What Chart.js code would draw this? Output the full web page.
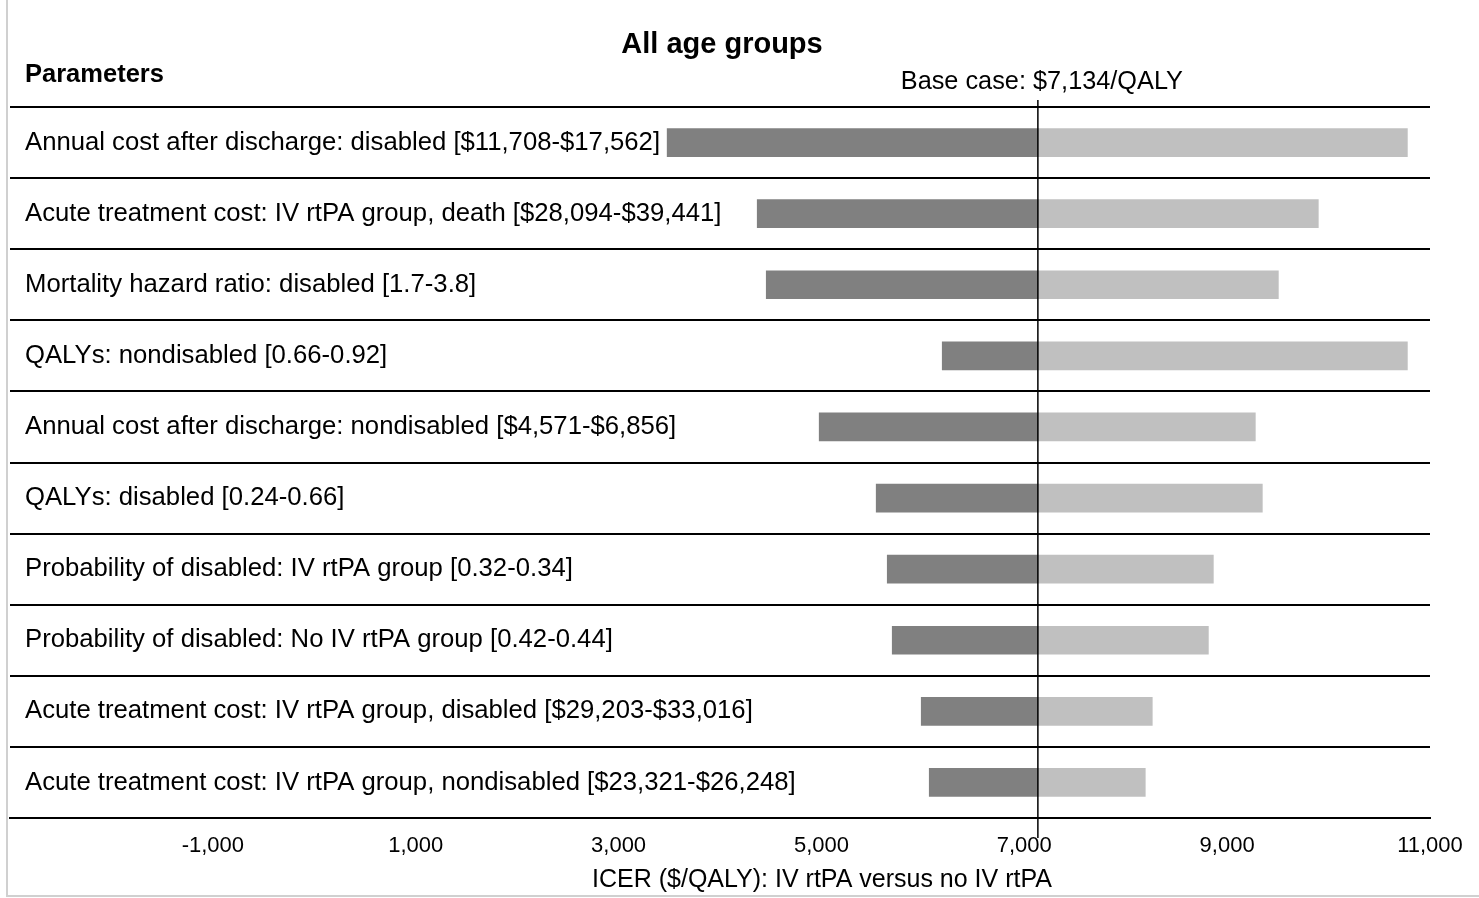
<!DOCTYPE html>
<html>
<head>
<meta charset="utf-8">
<title>All age groups</title>
<script src="https://cdn.jsdelivr.net/npm/chart.js@4/dist/chart.umd.min.js"></script>
<style>
  html, body { margin: 0; padding: 0; background: #ffffff; }
  #wrap { position: relative; width: 1479px; height: 898px; }
</style>
</head>
<body>
<div id="wrap"><canvas id="chart" width="1479" height="898"></canvas></div>
<script>
// Parameters varied in the one-way sensitivity analysis (top to bottom)
const categories = [
  'Annual cost after discharge: disabled [$11,708-$17,562]',
  'Acute treatment cost: IV rtPA group, death [$28,094-$39,441]',
  'Mortality hazard ratio: disabled [1.7-3.8]',
  'QALYs: nondisabled [0.66-0.92]',
  'Annual cost after discharge: nondisabled [$4,571-$6,856]',
  'QALYs: disabled [0.24-0.66]',
  'Probability of disabled: IV rtPA group [0.32-0.34]',
  'Probability of disabled: No IV rtPA group [0.42-0.44]',
  'Acute treatment cost: IV rtPA group, disabled [$29,203-$33,016]',
  'Acute treatment cost: IV rtPA group, nondisabled [$23,321-$26,248]'
];

// ICER at each end of the parameter range ($/QALY)
const lowValues  = [3479, 4367, 4456, 6191, 4978, 5540, 5649, 5698, 5984, 6063];
const highValues = [10777, 9899, 9505, 10777, 9278, 9347, 8864, 8815, 8262, 8193];

// Base-case ICER
const baseCase = 7134;

// Axis range and labelled ticks
const axisMin = -3000;
const axisMax = 11000;
const tickValues = [-1000, 1000, 3000, 5000, 7000, 9000, 11000];

const FONT = '"Liberation Sans", Arial, Helvetica, sans-serif';

// Base-case line, headings and outer frame
const decorations = {
  id: 'decorations',
  afterDatasetsDraw(chart) {
    const { ctx } = chart;
    const x = chart.scales.x.getPixelForValue(baseCase);
    ctx.save();
    ctx.strokeStyle = '#000000';
    ctx.lineWidth = 1.5;
    ctx.beginPath();
    ctx.moveTo(x, 100);
    ctx.lineTo(x, 838);
    ctx.stroke();
    ctx.restore();
  },
  afterDraw(chart) {
    const { ctx } = chart;
    const x = chart.scales.x.getPixelForValue(baseCase);
    ctx.save();
    ctx.fillStyle = '#000000';
    ctx.textBaseline = 'middle';

    ctx.font = 'bold 29px ' + FONT;
    ctx.textAlign = 'center';
    ctx.fillText('All age groups', 722, 45);

    ctx.font = 'bold 25.5px ' + FONT;
    ctx.textAlign = 'left';
    ctx.fillText('Parameters', 25, 75);

    ctx.font = '25.3px ' + FONT;
    ctx.textAlign = 'center';
    ctx.fillText('Base case: $7,134/QALY', x + 4, 82);

    ctx.font = '25px ' + FONT;
    ctx.fillText('ICER ($/QALY): IV rtPA versus no IV rtPA', 822, 880);

    // light frame
    ctx.strokeStyle = '#d0d0d0';
    ctx.lineWidth = 2;
    ctx.beginPath();
    ctx.moveTo(7, 0);
    ctx.lineTo(7, 896);
    ctx.lineTo(1479, 896);
    ctx.stroke();
    ctx.restore();
  }
};

new Chart(document.getElementById('chart'), {
  type: 'bar',
  data: {
    labels: categories,
    datasets: [
      {
        label: 'Low',
        data: lowValues.map(v => [v, baseCase]),
        backgroundColor: '#808080',
        borderWidth: 0,
        grouped: false,
        barThickness: 28
      },
      {
        label: 'High',
        data: highValues.map(v => [baseCase, v]),
        backgroundColor: '#c0c0c0',
        borderWidth: 0,
        grouped: false,
        barThickness: 28
      }
    ]
  },
  options: {
    indexAxis: 'y',
    responsive: false,
    devicePixelRatio: 1,
    animation: false,
    layout: { padding: { left: 10, right: 49, top: 107, bottom: 0 } },
    plugins: {
      legend: { display: false },
      tooltip: { enabled: false },
      title: { display: false }
    },
    scales: {
      x: {
        type: 'linear',
        min: axisMin,
        max: axisMax,
        afterBuildTicks(scale) {
          scale.ticks = tickValues.map(v => ({ value: v }));
        },
        afterFit(scale) { scale.height = 80; },
        grid: { display: false },
        border: { display: true, color: '#000000', width: 2 },
        ticks: {
          padding: 7,
          color: '#000000',
          font: { family: FONT, size: 22 },
          maxRotation: 0,
          autoSkip: false,
          callback: v => Number(v).toLocaleString('en-US')
        }
      },
      y: {
        type: 'category',
        afterFit(scale) { scale.width = 0; },
        grid: {
          display: true,
          offset: true,
          drawTicks: false,
          color: '#000000',
          lineWidth: 2
        },
        border: { display: false },
        ticks: {
          mirror: true,
          padding: 15,
          color: '#000000',
          font: { family: FONT, size: 25.7 },
          autoSkip: false
        }
      }
    }
  },
  plugins: [decorations]
});
</script>
</body>
</html>
